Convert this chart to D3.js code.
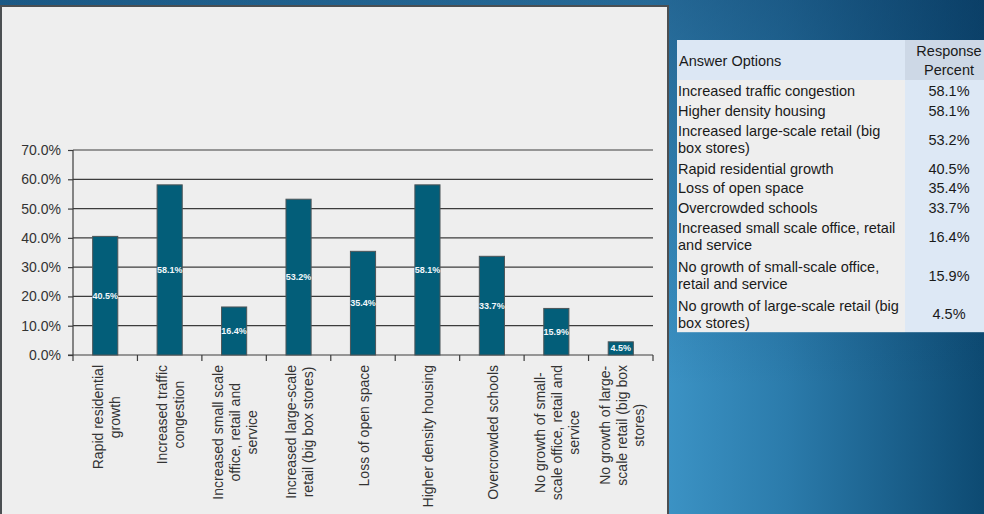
<!DOCTYPE html>
<html>
<head>
<meta charset="utf-8">
<script src="https://cdn.jsdelivr.net/npm/d3@7"></script>
<style>
  html, body { margin: 0; padding: 0; overflow: hidden; background: #1b5885; }
  svg { display: block; }
</style>
</head>
<body>
<svg id="chart" width="984" height="514"></svg>
<script>
// Survey: perceived negative impacts of growth (share of respondents)
const categories = [
  "Rapid residential growth",
  "Increased traffic congestion",
  "Increased small scale office, retail and service",
  "Increased large-scale retail (big box stores)",
  "Loss of open space",
  "Higher density housing",
  "Overcrowded schools",
  "No growth of small-scale office, retail and service",
  "No growth of large-scale retail (big box stores)"
];
const values = [0.405, 0.581, 0.164, 0.532, 0.354, 0.581, 0.337, 0.159, 0.045];

// Wrapped category labels under the x axis
const axisLabelLines = [
  ["Rapid residential", "growth"],
  ["Increased traffic", "congestion"],
  ["Increased small scale", "office, retail and", "service"],
  ["Increased large-scale", "retail (big box stores)"],
  ["Loss of open space"],
  ["Higher density housing"],
  ["Overcrowded schools"],
  ["No growth of small-", "scale office, retail and", "service"],
  ["No growth of large-", "scale retail (big box", "stores)"]
];

// Wrapped labels used in the summary table
const tableLabelLines = [
  ["Rapid residential growth"],
  ["Increased traffic congestion"],
  ["Increased small scale office, retail", "and service"],
  ["Increased large-scale retail (big", "box stores)"],
  ["Loss of open space"],
  ["Higher density housing"],
  ["Overcrowded schools"],
  ["No growth of small-scale office,", "retail and service"],
  ["No growth of large-scale retail (big", "box stores)"]
];

const yTicks = [0, 0.1, 0.2, 0.3, 0.4, 0.5, 0.6, 0.7];
const tableHeaders = ["Answer Options", ["Response", "Percent"]];

const pct = d3.format(".1%");
const svg = d3.select("#chart");
const defs = svg.append("defs");

// ---- slide background ----
const gH = defs.append("linearGradient").attr("id", "bgH")
  .attr("gradientUnits", "userSpaceOnUse")
  .attr("x1", 0).attr("y1", 0).attr("x2", 984).attr("y2", 0);
[[0, "#2a78a8"], [0.66, "#3e96c8"], [0.8, "#2b7bab"], [1, "#0d4a72"]]
  .forEach(([o, c]) => gH.append("stop").attr("offset", o).attr("stop-color", c));
const gV = defs.append("linearGradient").attr("id", "bgV")
  .attr("gradientUnits", "userSpaceOnUse")
  .attr("x1", 0).attr("y1", 0).attr("x2", 0).attr("y2", 514);
gV.append("stop").attr("offset", 0).attr("stop-color", "#08325a").attr("stop-opacity", 0.45);
gV.append("stop").attr("offset", 0.75).attr("stop-color", "#08325a").attr("stop-opacity", 0);
svg.append("rect").attr("width", 984).attr("height", 514).attr("fill", "url(#bgH)");
svg.append("rect").attr("width", 984).attr("height", 514).attr("fill", "url(#bgV)");

// ---- chart panel ----
svg.append("rect")
  .attr("x", 1).attr("y", 6).attr("width", 667).attr("height", 530)
  .attr("fill", "#eeeeee").attr("stroke", "#4b4f52").attr("stroke-width", 2);

const plot = { left: 73, right: 653, top: 150, bottom: 355 };

const x = d3.scaleBand().domain(categories).range([plot.left, plot.right]).padding(0);
const y = d3.scaleLinear().domain([0, 0.7]).range([plot.bottom, plot.top]);
const barW = x.bandwidth() * 0.39;

const g = svg.append("g").attr("font-family", "'Liberation Sans', Arial, sans-serif");

// gridlines
g.append("g").selectAll("line").data(yTicks.filter(t => t > 0)).join("line")
  .attr("x1", plot.left).attr("x2", plot.right)
  .attr("y1", d => y(d)).attr("y2", d => y(d))
  .attr("stroke", "#3c3c3c").attr("stroke-width", 1.2);

// y axis
const yAxis = g.append("g")
  .attr("transform", `translate(${plot.left},0)`)
  .call(d3.axisLeft(y).tickValues(yTicks).tickFormat(pct).tickSize(5).tickPadding(7));
yAxis.select(".domain").attr("stroke", "#3c3c3c").attr("stroke-width", 1.2)
  .attr("d", `M0,${plot.top}V${plot.bottom}`);
yAxis.selectAll(".tick line").attr("stroke", "#3c3c3c").attr("stroke-width", 1.2);
yAxis.selectAll(".tick text").attr("font-size", 14).attr("fill", "#333")
  .attr("font-family", "'Liberation Sans', Arial, sans-serif");

// x axis line and tick marks at band edges
g.append("line")
  .attr("x1", plot.left - 5).attr("x2", plot.right)
  .attr("y1", plot.bottom).attr("y2", plot.bottom)
  .attr("stroke", "#3c3c3c").attr("stroke-width", 1.2);
const edges = categories.map(c => x(c)).concat([x(categories[categories.length - 1]) + x.bandwidth()]);
g.append("g").selectAll("line").data(edges).join("line")
  .attr("x1", d => d).attr("x2", d => d)
  .attr("y1", plot.bottom).attr("y2", plot.bottom + 6)
  .attr("stroke", "#3c3c3c").attr("stroke-width", 1.2);

// bars
g.append("g").selectAll("rect").data(values).join("rect")
  .attr("x", (d, i) => x(categories[i]) + (x.bandwidth() - barW) / 2)
  .attr("width", barW)
  .attr("y", d => y(d))
  .attr("height", d => y(0) - y(d))
  .attr("fill", "#035e79")
  .attr("stroke", "#4d5558").attr("stroke-width", 1);

// value labels inside bars
g.append("g").selectAll("text").data(values).join("text")
  .attr("x", (d, i) => x(categories[i]) + x.bandwidth() / 2)
  .attr("y", d => (y(d) + y(0)) / 2)
  .attr("text-anchor", "middle").attr("dominant-baseline", "central")
  .attr("font-size", 9).attr("font-weight", "bold").attr("fill", "#f2f7fb")
  .text(d => pct(d));

// rotated category labels
const lineGap = 17;
const labelGroups = g.append("g").selectAll("g").data(axisLabelLines).join("g");
labelGroups.each(function (lines, i) {
  const grp = d3.select(this);
  const t = grp.selectAll("text").data(lines).join("text")
    .attr("x", 0)
    .attr("y", (d, j) => (j - (lines.length - 1) / 2) * lineGap)
    .attr("text-anchor", "middle").attr("dominant-baseline", "central")
    .attr("font-size", 14).attr("fill", "#333")
    .text(d => d);
  let maxLen = 0;
  t.each(function () { maxLen = Math.max(maxLen, this.getComputedTextLength()); });
  const cx = x(categories[i]) + x.bandwidth() / 2 + 1;
  grp.attr("transform", `translate(${cx},${plot.bottom + 10 + maxLen / 2}) rotate(-90)`);
});

// ---- summary table (sorted by response percent) ----
const order = d3.range(values.length).sort((a, b) => d3.descending(values[a], values[b]));
const tbl = { x: 677, y: 40, col1: 228, col2: 90, head: 40, line: 19.4, gap: 17 };
const tg = svg.append("g").attr("font-family", "'Liberation Sans', Arial, sans-serif")
  .attr("font-size", 14.5).attr("fill", "#1a1a1a");

// cell backgrounds: one block per column so no seams appear between rows
const bodyH = d3.sum(order, idx => tableLabelLines[idx].length * tbl.line);
tg.append("rect").attr("x", tbl.x).attr("y", tbl.y + tbl.head).attr("width", tbl.col1).attr("height", bodyH)
  .attr("fill", "#eeeeee");
tg.append("rect").attr("x", tbl.x + tbl.col1).attr("y", tbl.y + tbl.head).attr("width", tbl.col2).attr("height", bodyH)
  .attr("fill", "#dde8f5");
tg.append("rect").attr("x", tbl.x).attr("y", tbl.y).attr("width", tbl.col1).attr("height", tbl.head)
  .attr("fill", "#dce7f4");
tg.append("rect").attr("x", tbl.x + tbl.col1).attr("y", tbl.y).attr("width", tbl.col2).attr("height", tbl.head)
  .attr("fill", "#cdd8e6");

tg.append("text").attr("x", tbl.x + 2).attr("y", tbl.y + tbl.head / 2 + 1)
  .attr("dominant-baseline", "central").text(tableHeaders[0]);
tg.append("g").selectAll("text").data(tableHeaders[1]).join("text")
  .attr("x", tbl.x + tbl.col1 + 44)
  .attr("y", (d, j) => tbl.y + tbl.head / 2 + (j - 0.5) * 19)
  .attr("text-anchor", "middle").attr("dominant-baseline", "central")
  .text(d => d);

let rowY = tbl.y + tbl.head;
order.forEach(idx => {
  const lines = tableLabelLines[idx];
  const h = lines.length * tbl.line;
  const cy = rowY + h / 2 + 1.5;
  lines.forEach((ln, j) => {
    tg.append("text").attr("x", tbl.x + 1)
      .attr("y", cy + (j - (lines.length - 1) / 2) * tbl.gap)
      .attr("dominant-baseline", "central").text(ln);
  });
  tg.append("text").attr("x", tbl.x + tbl.col1 + 44).attr("y", cy)
    .attr("text-anchor", "middle").attr("dominant-baseline", "central")
    .text(pct(values[idx]));
  rowY += h;
});
</script>
</body>
</html>
